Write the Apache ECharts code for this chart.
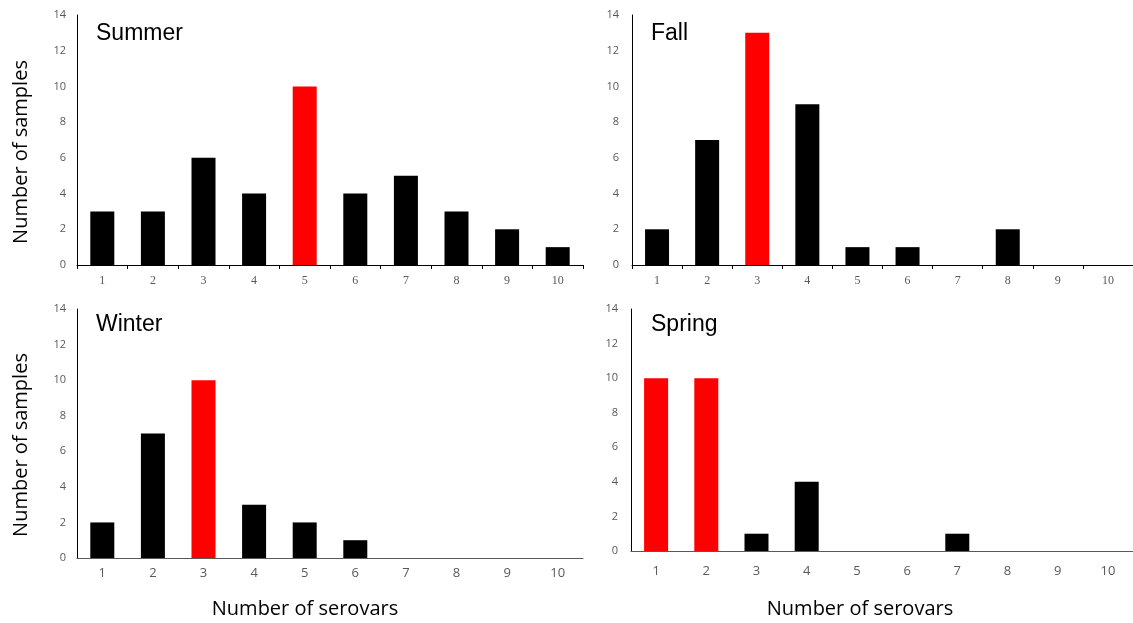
<!DOCTYPE html>
<html><head><meta charset="utf-8">
<script src="https://cdn.jsdelivr.net/npm/echarts@6/dist/echarts.min.js"></script>
<style>html,body{margin:0;padding:0;background:#fff}#c{width:1133px;height:623px}</style>
</head><body><div id="c"></div>
<script>
const categories = ['1','2','3','4','5','6','7','8','9','10'];
const panelNames = ['Summer','Fall','Winter','Spring'];
const summer = [3,3,6,4,10,4,5,3,2,1];
const fall = [2,7,13,9,1,1,0,2,0,0];
const winter = [2,7,10,3,2,1,0,0,0,0];
const spring = [10,10,1,4,0,0,1,0,0,0];
const summerHighlight = [4];
const fallHighlight = [2];
const winterHighlight = [2];
const springHighlight = [0,1];
const yTicks = [0,2,4,6,8,10,12,14];
const yTitle = 'Number of samples';
const xTitle = 'Number of serovars';

const seriesData = [summer, fall, winter, spring];
const highlights = [summerHighlight, fallHighlight, winterHighlight, springHighlight];
const grids = [
  {left:77, top:15, width:506, height:250},
  {left:632, top:15, width:506, height:250},
  {left:77, top:309, width:506, height:249},
  {left:631, top:309, width:506, height:242}
];
const chart = echarts.init(document.getElementById('c'));
const xAxis = [], yAxis = [], series = [], title = [];
grids.forEach((g,i)=>{
  const top = i < 2;
  xAxis.push({type:'category', gridIndex:i, data:categories, boundaryGap:true,
    axisLine:{lineStyle:{color: top ? '#000' : '#595959', width:1}},
    axisTick:{show: top, alignWithLabel:false, length:4, lineStyle:{color:'#000'}},
    axisLabel:{color:'#595959', fontSize: top ? 12 : 13,
      fontFamily: top ? 'Liberation Serif' : 'Open Sans', margin: top ? 10 : (i===3 ? 14 : 9)}
  });
  yAxis.push({type:'value', gridIndex:i, min:yTicks[0], max:yTicks[yTicks.length-1], interval:yTicks[1]-yTicks[0],
    axisLine:{show:true, lineStyle:{color:'#000', width:1}},
    axisTick:{show:false}, splitLine:{show:false},
    axisLabel:{color:'#595959', fontSize:11, fontFamily:'Open Sans', margin: i%2 ? 13 : 11}
  });
  series.push({type:'bar', xAxisIndex:i, yAxisIndex:i, barWidth:24,
    data: seriesData[i].map((v,k)=>({value:v, itemStyle:{color: highlights[i].includes(k) ? '#FF0000' : '#000'}}))
  });
  title.push({text:panelNames[i], left: (i%2 ? 646 : 91), top: (top ? 17 : 308),
    textStyle:{fontFamily:'Liberation Sans', fontSize:23, fontWeight:'normal', color:'#000'}});
});
const font = '20px "Open Sans"';
chart.setOption({
  animation:false,
  grid: grids.map(g=>Object.assign({containLabel:false}, g)),
  title, xAxis, yAxis, series,
  graphic:[
    {type:'text', x:21, y:152, rotation:Math.PI/2, style:{text:yTitle, font, fill:'#000', textAlign:'center', textVerticalAlign:'middle'}},
    {type:'text', x:21, y:445, rotation:Math.PI/2, style:{text:yTitle, font, fill:'#000', textAlign:'center', textVerticalAlign:'middle'}},
    {type:'text', x:305, y:609, style:{text:xTitle, font, fill:'#000', textAlign:'center', textVerticalAlign:'middle'}},
    {type:'text', x:860, y:609, style:{text:xTitle, font, fill:'#000', textAlign:'center', textVerticalAlign:'middle'}}
  ]
});
</script></body></html>
